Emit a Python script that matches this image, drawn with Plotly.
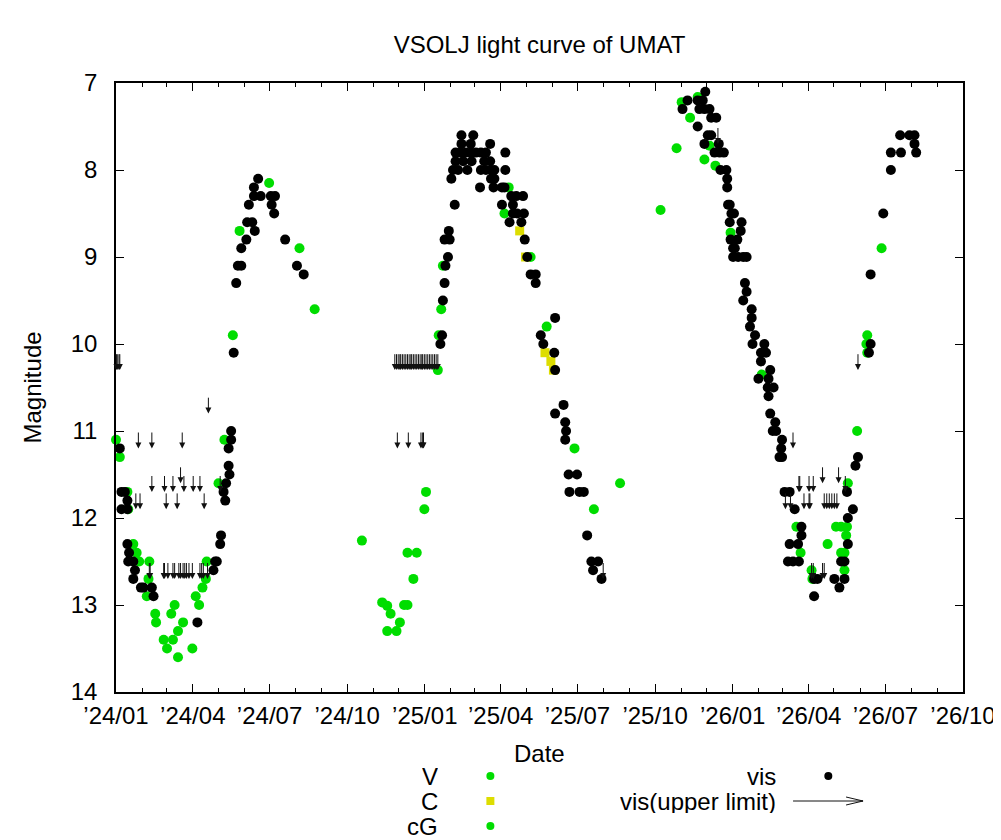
import pandas as pd
import plotly.graph_objects as go

vis_jd = [315, 317, 321, 324, 317, 324, 324, 326, 325, 331, 333, 331, 340, 343, 353, 355,
          407, 426, 428, 430, 434, 435, 438, 440, 441, 445, 444, 444, 447, 447, 450, 453,
          455, 459, 459, 465, 466, 472, 468, 475, 474, 474, 482, 479, 494, 499, 495, 498,
          511, 525, 533,
          695, 697, 698, 700, 701, 704, 700, 706, 705, 712, 708, 710, 716, 727, 743, 749,
          755, 759, 772, 713, 722, 732, 747, 754, 713, 719, 725, 731, 737, 743, 749, 772,
          720, 731, 754, 720, 734, 755, 759, 742, 758, 768, 771, 779, 785, 793, 768, 781,
          781, 786, 794, 777, 791, 795, 798, 802, 808, 808, 831, 814, 817, 830, 831, 841,
          831, 843, 844, 843, 847, 857, 848, 860, 865, 869, 874, 882, 876, 886,
          988, 982, 1000, 1006, 1009, 1002, 1008, 1014, 1016, 1022, 1000, 1012, 1016, 1008,
          1025, 1020, 1026, 1031, 1027, 1034, 1035, 1035, 1036, 1038, 1040, 1043, 1038, 1052,
          1051, 1039, 1047, 1042, 1044, 1042, 1048, 1054, 1058, 1056, 1058, 1054, 1064, 1064,
          1062, 1068, 1065, 1079, 1075, 1081, 1075, 1086, 1072, 1084, 1083, 1090, 1084, 1086,
          1092, 1089, 1093, 1100, 1099, 1097, 1100, 1103, 1109, 1115, 1123, 1123, 1109, 1119,
          1107, 1113, 1120, 1138, 1142, 1138, 1162, 1168, 1174, 1178, 1170, 1174, 1178, 1184,
          1177, 1187, 1190, 1203, 1205, 1205, 1220, 1229, 1229, 1241, 1259, 1257, 1240, 1251,
          1257]
vis_mag = [11.2, 11.7, 11.7, 11.8, 11.9, 11.9, 12.3, 12.4, 12.5, 12.5, 12.6, 12.7, 12.8, 12.8, 12.8, 12.9,
           13.2, 12.6, 12.5, 12.5, 12.3, 12.2, 11.7, 11.8, 11.6, 11.5, 11.4, 11.2, 11.1, 11.0, 10.1, 9.3,
           9.1, 9.1, 8.9, 8.8, 8.6, 8.6, 8.4, 8.7, 8.2, 8.3, 8.3, 8.1, 8.3, 8.3, 8.4, 8.5,
           8.8, 9.1, 9.2,
           10.0, 9.9, 9.5, 9.3, 9.1, 9.0, 8.8, 8.8, 8.7, 8.4, 8.1, 8.0, 8.0, 8.0, 8.0, 8.0,
           8.0, 8.0, 8.0, 7.9, 7.9, 7.9, 7.9, 7.9, 7.8, 7.8, 7.8, 7.8, 7.8, 7.8, 7.8, 7.8,
           7.7, 7.7, 7.7, 7.6, 7.6, 8.1, 8.1, 8.2, 8.2, 8.2, 8.2, 8.3, 8.3, 8.3, 8.4, 8.4,
           8.5, 8.5, 8.5, 8.6, 8.6, 8.8, 9.0, 9.2, 9.2, 9.3, 9.7, 9.9, 10.0, 10.1, 10.3, 10.7,
           10.8, 10.9, 11.0, 11.1, 11.5, 11.5, 11.7, 11.7, 11.7, 12.2, 12.5, 12.5, 12.6, 12.7,
           7.2, 7.3, 7.2, 7.2, 7.1, 7.3, 7.3, 7.3, 7.4, 7.4, 7.5, 7.6, 7.6, 7.7,
           7.7, 7.8, 7.8, 7.8, 8.0, 8.0, 8.1, 8.2, 8.4, 8.4, 8.5, 8.5, 8.6, 8.6,
           8.7, 8.8, 8.8, 8.9, 8.9, 9.0, 9.0, 9.0, 9.0, 9.3, 9.4, 9.5, 9.6, 9.7,
           9.8, 9.9, 10.0, 10.0, 10.1, 10.1, 10.2, 10.3, 10.4, 10.4, 10.5, 10.5, 10.6, 10.8,
           10.9, 11.0, 11.0, 11.1, 11.2, 11.3, 11.3, 11.7, 11.7, 11.9, 12.1, 12.2, 12.3, 12.3,
           12.5, 12.5, 12.5, 12.7, 12.7, 12.9, 12.7, 12.8, 12.7, 12.3, 12.5, 12.5, 12.0, 11.9,
           11.7, 11.4, 11.3, 10.1, 10.0, 9.2, 8.5, 8.0, 7.8, 7.8, 7.8, 7.7, 7.6, 7.6,
           7.6]

v_jd = [310.5, 315, 324, 325, 331, 335, 338, 350, 349, 347, 357, 358, 376, 380, 390, 384,
        367, 378, 371, 384, 401, 405, 409, 413, 417, 418, 432, 439, 449, 457, 492, 528, 546,
        602, 626, 632, 652, 656, 636, 647, 632, 643, 656, 667, 663, 676, 678, 692, 693, 696,
        698, 776, 771, 802, 821, 854, 877, 908,
        956, 975, 981, 991, 1000, 1014, 1008, 1021, 1039, 1076, 1117, 1122, 1135, 1136, 1174,
        1154, 1164, 1170, 1177, 1176, 1170, 1174, 1178, 1189, 1200, 1201, 1201, 1218]
v_mag = [11.1, 11.3, 11.7, 11.9, 12.3, 12.4, 12.5, 12.5, 12.7, 12.9, 13.1, 13.2, 13.1, 13.0, 13.2, 13.3,
         13.4, 13.4, 13.5, 13.6, 13.5, 12.9, 13.0, 12.8, 12.7, 12.5, 11.6, 11.1, 9.9, 8.7, 8.15, 8.9, 9.6,
         12.26, 12.97, 13.01, 13.0, 13.0, 13.1, 13.2, 13.3, 13.3, 12.4, 12.4, 12.7, 11.9, 11.7, 10.3, 9.9, 9.6,
         9.1, 8.2, 8.5, 9.0, 9.8, 11.2, 11.9, 11.6,
         8.46, 7.75, 7.22, 7.4, 7.16, 7.72, 7.88, 7.95, 8.72, 10.35, 12.1, 12.4, 12.6, 12.7, 12.6,
         12.3, 12.1, 12.1, 12.1, 12.2, 12.4, 12.4, 11.6, 11.0, 10.0, 10.1, 9.9, 8.9]

c_jd = [789, 796, 819, 826, 829]
c_mag = [8.7, 9.0, 10.1, 10.2, 10.3]

cg_jd = []
cg_mag = []

# fainter-than limits
lim_jd = [311, 312, 314, 315, 337, 353, 389, 420, 387,
          353, 368, 378, 391, 402, 410, 434,
          334, 339, 370, 383, 415,
          350, 351, 367, 368, 372, 378, 380, 385, 387, 390, 392, 394, 397, 401, 410, 412, 414, 419,
          641, 643, 645, 647, 648, 650, 652, 654, 656, 658, 660, 661, 663, 665, 667, 669, 671,
          673, 674, 676, 678, 680, 682, 684, 686, 688, 690, 692,
          644, 657, 672, 674, 675, 888,
          1024, 1113, 1120, 1121, 1132, 1137, 1175, 1148, 1167,
          1104, 1110, 1126, 1132, 1133, 1150, 1153, 1156, 1159, 1162, 1165,
          1135, 1137, 1148, 1150, 1190]
lim_mag = [10.1, 10.1, 10.1, 10.1, 11.0, 11.0, 11.0, 10.6, 11.4,
           11.5, 11.5, 11.5, 11.5, 11.5, 11.5, 11.5,
           11.7, 11.7, 11.7, 11.7, 11.7,
           12.5, 12.5, 12.5, 12.5, 12.5, 12.5, 12.5, 12.5, 12.5, 12.5, 12.5, 12.5, 12.5, 12.5, 12.5, 12.5, 12.5, 12.5,
           10.1, 10.1, 10.1, 10.1, 10.1, 10.1, 10.1, 10.1, 10.1, 10.1, 10.1, 10.1, 10.1, 10.1, 10.1, 10.1, 10.1,
           10.1, 10.1, 10.1, 10.1, 10.1, 10.1, 10.1, 10.1, 10.1, 10.1, 10.1,
           11.0, 11.0, 11.0, 11.0, 11.0, 12.5,
           7.5, 11.0, 11.5, 11.5, 11.5, 11.5, 11.5, 11.4, 11.4,
           11.7, 11.7, 11.7, 11.7, 11.7, 11.7, 11.7, 11.7, 11.7, 11.7, 11.7,
           12.5, 12.5, 12.5, 12.5, 10.1]
arrow_len = 0.2


def jd_to_date(jd):
    return pd.to_datetime([j + 2460000 for j in jd], unit='D', origin='julian')


FONT = "Liberation Sans"
GREEN = '#00dd00'
YELLOW = '#dddd00'

fig = go.Figure()
fig.add_trace(go.Scatter(x=jd_to_date(v_jd), y=v_mag, mode='markers', name='V',
                         marker=dict(color=GREEN, size=10, line_width=0)))
fig.add_trace(go.Scatter(x=jd_to_date(c_jd), y=c_mag, mode='markers', name='C',
                         marker=dict(color=YELLOW, size=9, symbol='square', line_width=0)))
fig.add_trace(go.Scatter(x=jd_to_date(cg_jd), y=cg_mag, mode='markers', name='cG',
                         marker=dict(color=GREEN, size=10, line_width=0)))
fig.add_trace(go.Scatter(x=jd_to_date(vis_jd), y=vis_mag, mode='markers', name='vis',
                         marker=dict(color='black', size=10, line_width=0)))
fig.update_traces(cliponaxis=False, showlegend=False)

# upper limits: arrow from the limit toward fainter magnitudes
annots = []
for d, m in zip(jd_to_date(lim_jd), lim_mag):
    s = d.strftime('%Y-%m-%d %H:%M')
    annots.append(dict(x=s, y=m + arrow_len, ax=s, ay=m, xref='x', yref='y',
                       axref='x', ayref='y', text='', showarrow=True,
                       arrowhead=2, arrowsize=1.2, arrowwidth=1, arrowcolor='#111'))

# key, laid out like gnuplot's
key_font = dict(family=FONT, size=24, color='black')
for txt, xx, yy in [('V', 0.383, -0.138), ('C', 0.383, -0.179), ('cG', 0.383, -0.22),
                    ('vis', 0.782, -0.138), ('vis(upper limit)', 0.782, -0.179)]:
    annots.append(dict(x=xx, y=yy, xref='paper', yref='paper', text=txt, showarrow=False,
                       xanchor='right', yanchor='middle', height=24, font=key_font))
annots.append(dict(x=0.5, y=-0.1, xref='paper', yref='paper', text='Date', showarrow=False,
                   xanchor='center', yanchor='middle', height=22, font=key_font))
annots.append(dict(x=-0.098, y=0.5, xref='paper', yref='paper', text='Magnitude',
                   showarrow=False, textangle=-90, xanchor='center', yanchor='middle',
                   font=key_font))

shapes = [
    dict(type='circle', xref='paper', yref='paper', xsizemode='pixel', ysizemode='pixel',
         xanchor=0.442, yanchor=-0.138, x0=-4, x1=4, y0=-4, y1=4,
         fillcolor=GREEN, line_width=0),
    dict(type='rect', xref='paper', yref='paper', xsizemode='pixel', ysizemode='pixel',
         xanchor=0.442, yanchor=-0.179, x0=-4, x1=4, y0=-4, y1=4,
         fillcolor=YELLOW, line_width=0),
    dict(type='circle', xref='paper', yref='paper', xsizemode='pixel', ysizemode='pixel',
         xanchor=0.442, yanchor=-0.22, x0=-4, x1=4, y0=-4, y1=4,
         fillcolor=GREEN, line_width=0),
    dict(type='circle', xref='paper', yref='paper', xsizemode='pixel', ysizemode='pixel',
         xanchor=0.841, yanchor=-0.138, x0=-4, x1=4, y0=-4, y1=4,
         fillcolor='black', line_width=0),
    dict(type='path', xref='paper', yref='paper', xsizemode='pixel', ysizemode='pixel',
         xanchor=0.882, yanchor=-0.179,
         path='M -70,0 L 0,0 M -17,4 L 0,0 L -17,-4',
         line=dict(color='#111', width=1)),
]

axis_common = dict(showline=True, linecolor='black', linewidth=1.5, mirror='ticks',
                   ticks='inside', ticklen=8, tickwidth=1, tickcolor='black',
                   showgrid=False, zeroline=False,
                   tickfont=dict(family=FONT, size=24, color='black'))

fig.update_layout(
    width=1001, height=840,
    margin=dict(l=108, r=46, t=75, b=156),
    paper_bgcolor='white', plot_bgcolor='white',
    title=dict(text='VSOLJ light curve of UMAT', x=0.531, xanchor='center',
               y=1 - 37 / 840, yanchor='middle',
               font=dict(family=FONT, size=24, color='black')),
    xaxis=dict(type='date', range=['2024-01-01', '2026-10-01'], tick0='2024-01-01',
               dtick='M3', tickformat='’%y/%m', ticklabelstandoff=1,
               minor=dict(dtick='M1', ticks='inside', ticklen=4, tickwidth=1,
                          tickcolor='black', showgrid=False),
               **axis_common),
    yaxis=dict(range=[14, 7], dtick=1, ticklabelstandoff=12, **axis_common),
    annotations=annots,
    shapes=shapes,
    showlegend=False,
)

fig.write_html("out.html")
